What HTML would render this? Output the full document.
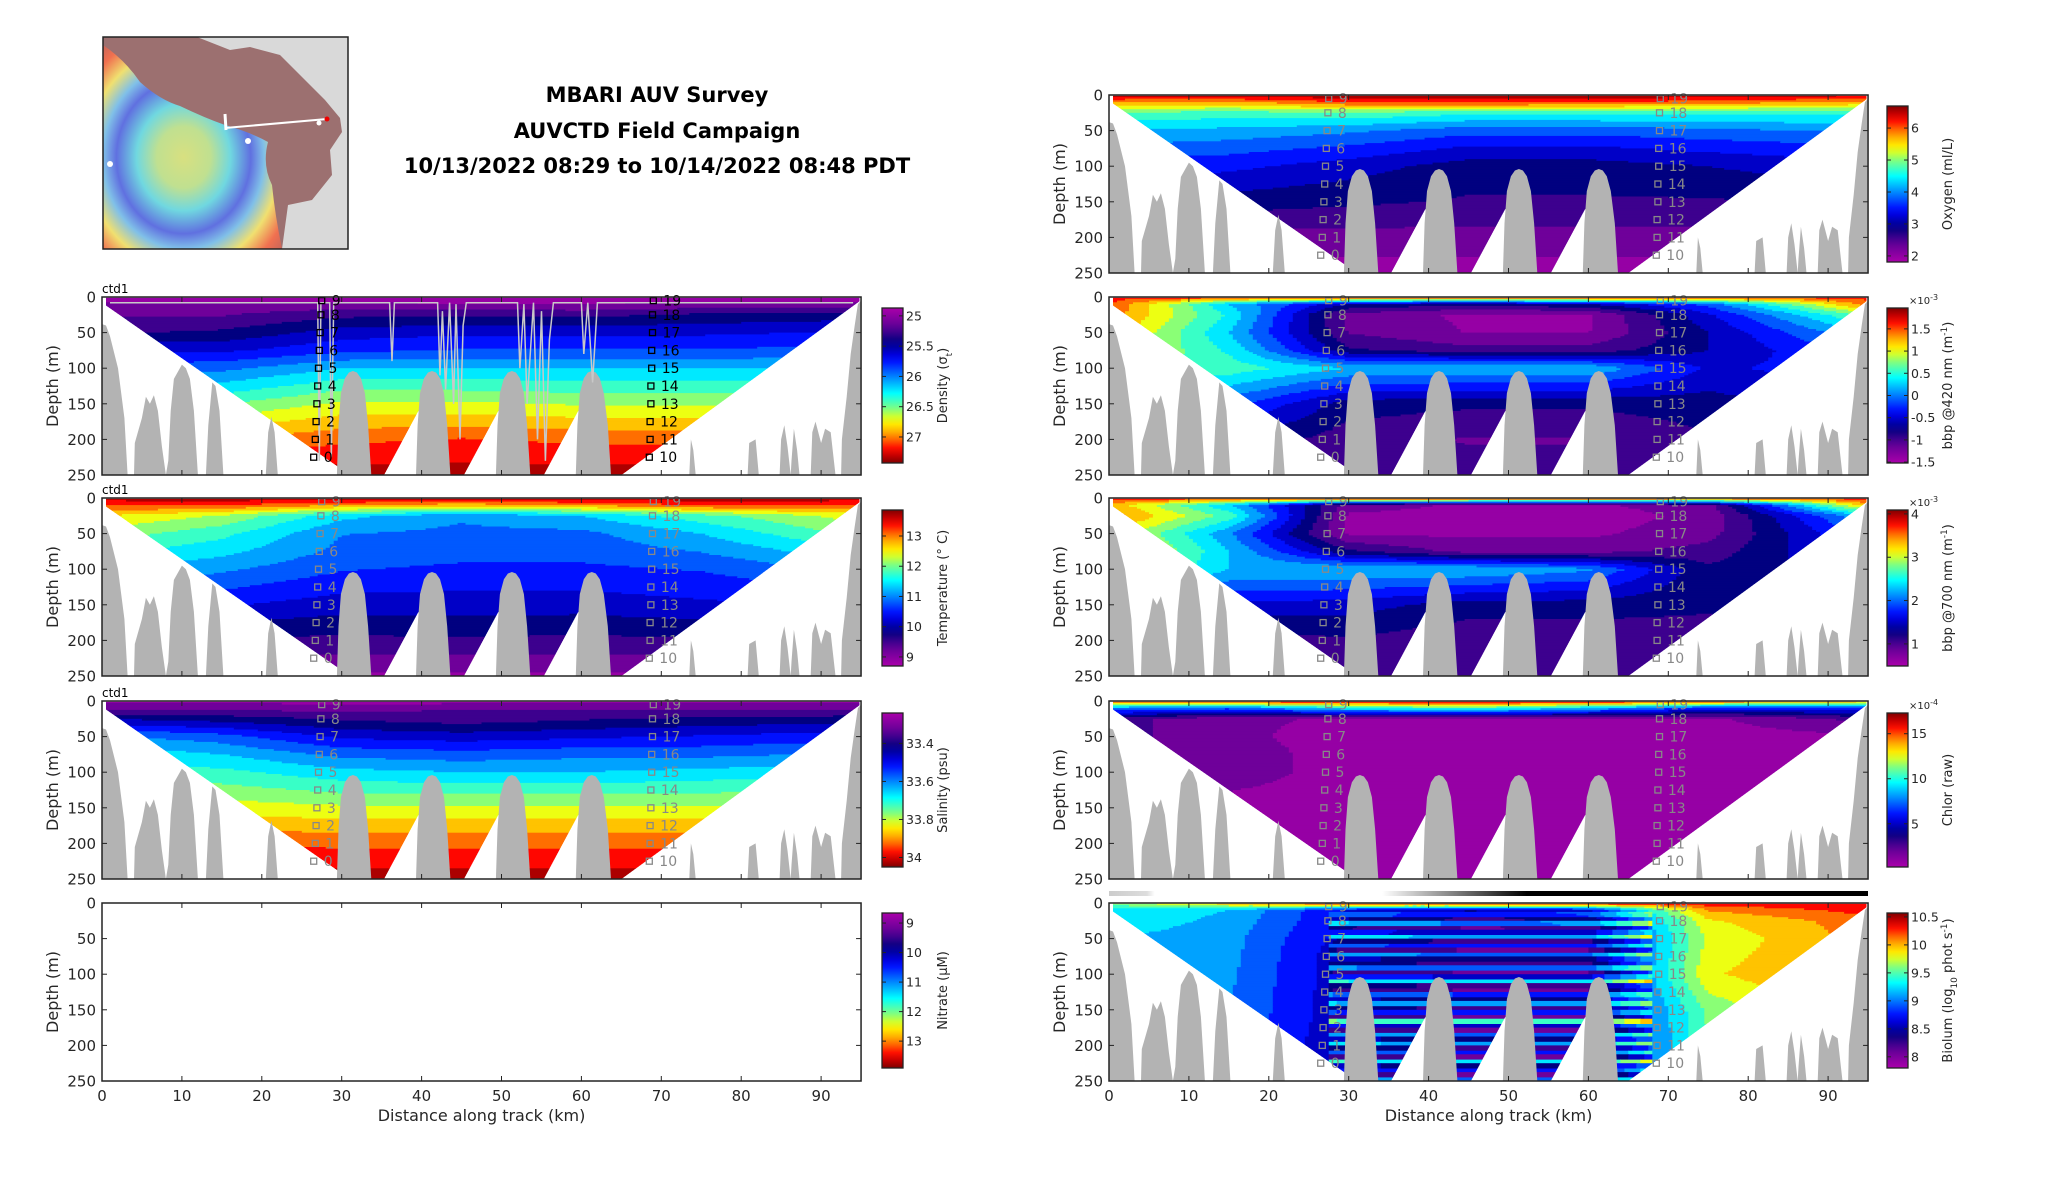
<!DOCTYPE html>
<html><head><meta charset="utf-8"><title>MBARI AUV Survey</title>
<style>
html,body{margin:0;padding:0;background:#fff;}
svg{display:block;font-family:"DejaVu Sans","Liberation Sans",sans-serif;}
</style></head>
<body>
<svg id="fig" width="2052" height="1188" viewBox="0 0 2052 1188" xmlns="http://www.w3.org/2000/svg">
<defs>
<radialGradient id="mapGrad" cx="0.45" cy="0.55" r="0.75">
<stop offset="0" stop-color="#d8e080"/><stop offset="0.2" stop-color="#c0e090"/><stop offset="0.35" stop-color="#70d8e0"/><stop offset="0.5" stop-color="#6070e0"/><stop offset="0.6" stop-color="#80c0e8"/><stop offset="0.72" stop-color="#f0e070"/><stop offset="0.85" stop-color="#f07050"/><stop offset="1" stop-color="#b06060"/>
</radialGradient>
<linearGradient id="biobar" x1="0" x2="1" y1="0" y2="0">
<stop offset="0" stop-color="#ccc"/><stop offset="0.05" stop-color="#ddd"/><stop offset="0.06" stop-color="#fff"/><stop offset="0.36" stop-color="#fff"/><stop offset="0.55" stop-color="#000"/><stop offset="1" stop-color="#000"/>
</linearGradient>
<clipPath id="mapClip"><rect x="103" y="37" width="245" height="212"/></clipPath>
</defs>
<g id="map" clip-path="url(#mapClip)">
<rect x="103" y="37" width="245" height="212" fill="#d9d9d9"/>
<path d="M103 37 L197 37 L230 50 L250 47 L280 55 L300 75 L325 100 L340 118 L342 132 L330 150 L332 175 L312 200 L288 205 L282 249 L103 249 Z" fill="#9c7070"/>
<path d="M103 45 Q125 60 140 82 Q160 100 180 106 Q205 118 225 125 Q250 132 268 142 Q262 165 272 185 Q275 215 282 249 L103 249 Z" fill="url(#mapGrad)"/>
<line x1="225" y1="128" x2="327" y2="119" stroke="#fff" stroke-width="2"/>
<line x1="225" y1="114" x2="226" y2="130" stroke="#fff" stroke-width="3"/>
<circle cx="327" cy="119" r="2.5" fill="#e00"/>
<circle cx="110" cy="164" r="3" fill="#fff"/><circle cx="248" cy="141" r="3" fill="#fff"/><circle cx="319" cy="123" r="2.5" fill="#fff"/>
</g>
<rect x="103" y="37" width="245" height="212" fill="none" stroke="#222" stroke-width="1.5"/>
<g font-weight="bold" font-size="21" text-anchor="middle" fill="#000">
<text x="657" y="102">MBARI AUV Survey</text>
<text x="657" y="138">AUVCTD Field Campaign</text>
<text x="657" y="173">10/13/2022 08:29 to 10/14/2022 08:48 PDT</text>
</g>
<rect x="1109" y="891" width="759" height="5" fill="url(#biobar)"/>
<g id="panels"></g>
</svg>
<script>
// ---- data ----
const gridX = [0,15,30,45,60,75,95];
const gridD = [0,10,25,50,75,100,150,200,250];
const densityVals = [
[.03,.03,.03,.03,.03,.03,.03],[.08,.08,.08,.06,.06,.08,.08],[.12,.12,.17,.18,.17,.2,.22],
[.18,.2,.28,.3,.3,.3,.32],[.3,.3,.36,.38,.38,.38,.4],[.4,.42,.5,.5,.5,.5,.5],
[.6,.62,.7,.7,.68,.68,.65],[.8,.82,.86,.88,.86,.86,.85],[.97,.97,.97,.97,.97,.97,.97]];
const temperatureVals = [
[.97,.98,.98,.98,.98,.98,.97],[.88,.88,.82,.78,.82,.88,.88],[.75,.68,.52,.45,.5,.6,.72],
[.66,.58,.44,.42,.42,.5,.65],[.58,.52,.42,.4,.4,.44,.55],[.5,.45,.38,.36,.36,.38,.45],
[.35,.32,.28,.28,.28,.3,.32],[.2,.18,.17,.18,.17,.18,.2],[.05,.05,.05,.05,.05,.05,.05]];
const salinityVals = [
[.05,.05,.03,.03,.03,.05,.05],[.1,.1,.1,.12,.12,.1,.1],[.25,.22,.18,.15,.18,.2,.22],
[.45,.4,.3,.28,.3,.32,.35],[.55,.5,.42,.4,.42,.42,.45],[.6,.58,.52,.5,.5,.52,.55],
[.75,.72,.7,.7,.7,.7,.7],[.88,.87,.86,.86,.86,.86,.86],[.97,.97,.97,.97,.97,.97,.97]];
const oxygenVals = [
[.97,.98,.99,.99,.99,.98,.95],[.82,.8,.88,.9,.88,.85,.8],[.62,.6,.62,.58,.58,.58,.58],
[.5,.48,.45,.4,.4,.42,.45],[.42,.4,.36,.3,.3,.33,.36],[.35,.33,.28,.22,.22,.25,.3],
[.25,.22,.2,.18,.18,.18,.2],[.1,.1,.1,.1,.1,.1,.1],[.03,.03,.03,.03,.03,.03,.03]];
const bbp420Vals = [
[.9,.92,.95,.97,.95,.9,.9],[.88,.5,.25,.2,.25,.4,.85],[.85,.55,.1,.05,.05,.3,.65],
[.8,.5,.12,.06,.06,.25,.5],[.75,.55,.2,.15,.15,.25,.4],[.65,.6,.5,.5,.5,.3,.35],
[.5,.4,.22,.2,.2,.22,.3],[.3,.25,.15,.12,.12,.18,.25],[.2,.2,.15,.15,.15,.2,.2]];
const bbp700Vals = [
[.9,.92,.95,.97,.95,.9,.9],[.8,.5,.1,.05,.05,.1,.8],[.85,.6,.05,.03,.03,.08,.5],
[.75,.45,.05,.05,.05,.1,.4],[.8,.5,.2,.1,.1,.15,.35],[.7,.5,.5,.5,.45,.2,.3],
[.4,.3,.28,.22,.22,.2,.25],[.2,.15,.18,.14,.14,.15,.2],[.15,.15,.15,.15,.15,.15,.15]];
const chlorVals = [
[.9,.92,.95,.98,.95,.9,.8],[.45,.4,.55,.6,.5,.35,.35],[.15,.08,.05,.05,.05,.05,.15],
[.15,.08,.03,.03,.03,.03,.05],[.12,.1,.03,.03,.03,.03,.03],[.1,.1,.03,.03,.03,.03,.03],
[.03,.03,.03,.03,.03,.03,.03],[.03,.03,.03,.03,.03,.03,.03],[.03,.03,.03,.03,.03,.03,.03]];
const biolumVals = [
[.65,.8,.92,.95,.95,.92,.92],[.55,.5,.3,.25,.3,.82,.9],[.55,.48,.3,.22,.25,.74,.85],
[.5,.46,.28,.22,.22,.7,.84],[.5,.46,.26,.22,.22,.72,.84],[.48,.45,.26,.22,.22,.74,.84],
[.45,.44,.26,.22,.22,.64,.84],[.42,.4,.26,.22,.22,.62,.82],[.4,.4,.26,.22,.22,.62,.82]];
const biolumStripes = [0,0,.1,-.05,.2,-.1,.05,.25,-.05,.12,-.1,.2,0,-.05,.18,-.1,.08,.3,-.05,-.1,.15,0,.22,-.05,.1,-.1,.35,.05,-.1,.2,0,.25,-.05,.15,-.1,.3,0,.1,-.1,.2];
// bathymetry (km, depth m)
const bathyKm = [0,0.5,1,2,2.8,3.2,4,4.1,5,5.5,6,6.5,7,7.5,8,8.3,8.6,9,9.5,10,10.5,11,11.5,12,13,13.3,13.8,14.2,14.7,15.2,20.5,20.8,21.2,21.6,22,
29.4,29.6,29.9,30.4,30.9,31.4,31.9,32.4,32.9,33.3,33.7,
39.3,39.5,39.8,40.3,40.8,41.3,41.8,42.3,42.8,43.2,43.6,
49.3,49.5,49.8,50.3,50.8,51.3,51.8,52.3,52.8,53.2,53.6,
59.3,59.5,59.8,60.3,60.8,61.3,61.8,62.3,62.8,63.3,63.7,
73.5,73.7,74,74.3,80.8,81,81.8,82.2,84.8,85,85.4,85.8,86.2,86.3,86.6,87,87.3,88.7,88.9,89.3,90,90.5,91.2,91.8,92.5,92.6,93.2,93.7,94.2,94.6,95];
const bathyDepth = [38,40,55,100,170,250,250,205,170,140,150,138,160,210,250,230,160,115,105,95,100,115,160,250,250,180,120,125,160,250,250,190,168,190,250,
250,180,135,114,106,104,106,114,135,180,250,
250,180,135,114,106,104,106,114,135,180,250,
250,180,135,114,106,104,106,114,135,180,250,
250,180,135,114,106,104,106,114,135,180,250,
250,200,215,250,250,205,200,250,250,200,180,210,250,230,185,215,250,250,190,175,205,185,190,250,250,200,140,80,40,10,5];
const sectionKm = [0.5,94.8,94.8,65,63.6,59.6,55.3,53.6,49.6,45.3,43.6,39.6,35.3,33.7,29.5,0.5];
const sectionDepth = [1,1,6,250,250,160,250,250,160,250,250,160,250,250,238,12];
const markerDepths = [5,25,50,75,100,125,150,175,200,225];
const markerLabelsA = ['9','8','7','6','5','4','3','2','1','0'];
const markerLabelsB = ['19','18','17','16','15','14','13','12','11','10'];
const markerKmA = [27.5,27.4,27.3,27.2,27.1,27,26.9,26.8,26.7,26.5];
const markerKmB = [69,68.9,68.9,68.8,68.8,68.7,68.7,68.6,68.6,68.5];
const depthTicks = [0,50,100,150,200,250];
const kmTicks = [0,10,20,30,40,50,60,70,80,90];
const traceKm = [1,27,27.2,27.4,28.5,28.7,29,30,36,36.3,36.6,37,42,42.3,42.6,43,43.5,44,44.3,44.8,45.2,45.6,52,52.3,52.8,53.2,54,54.5,55,55.5,56,56.5,60,60.3,60.8,61.4,62,94];
const traceDepth = [8,8,230,8,8,225,8,8,8,90,8,8,8,110,20,130,8,150,10,200,40,8,8,100,10,150,8,200,20,230,60,8,8,80,8,120,8,8];

// ---- layout ----
const KM = 7.99, PH = 178;
const root = document.getElementById('panels');
const NS = 'http://www.w3.org/2000/svg';
function mk(tag, attrs, parent){const e=document.createElementNS(NS,tag);for(const k in attrs)e.setAttribute(k,attrs[k]);(parent||root).appendChild(e);return e;}
const cmStops=[[0,[170,0,170]],[0.12,[95,0,150]],[0.22,[0,0,128]],[0.33,[0,0,255]],[0.45,[0,140,255]],[0.55,[0,255,255]],[0.65,[128,255,128]],[0.73,[255,255,0]],[0.82,[255,150,0]],[0.91,[255,0,0]],[1,[128,0,0]]];
function cmap(v){v=Math.max(0,Math.min(1,v));for(let i=1;i<cmStops.length;i++){if(v<=cmStops[i][0]){const a=cmStops[i-1],b=cmStops[i];const t=(v-a[0])/(b[0]-a[0]);const c=a[1].map((x,j)=>Math.round(x+(b[1][j]-x)*t));return 'rgb('+c.join(',')+')';}}return 'rgb(128,0,0)';}
function interp(mat,km,d){let i=0;while(i<gridX.length-2&&km>gridX[i+1])i++;let j=0;while(j<gridD.length-2&&d>gridD[j+1])j++;
const tx=Math.max(0,Math.min(1,(km-gridX[i])/(gridX[i+1]-gridX[i])));const ty=Math.max(0,Math.min(1,(d-gridD[j])/(gridD[j+1]-gridD[j])));
const a=mat[j][i]*(1-tx)+mat[j][i+1]*tx;const b=mat[j+1][i]*(1-tx)+mat[j+1][i+1]*tx;return a*(1-ty)+b*ty;}

const panels=[
 {key:'density',x0:102,top:297,mat:densityVals,ctd:true,mk:'#000',trace:true,cb:{x:882,y0:308,y1:463,lo:24.87,hi:27.43,topRed:false,ticks:[25,25.5,26,26.5,27],labels:['25','25.5','26','26.5','27'],title:'Density (σ<tspan baseline-shift="sub" font-size="9">t</tspan>)'}},
 {key:'temperature',x0:102,top:498,mat:temperatureVals,ctd:true,mk:'#888',cb:{x:882,y0:510,y1:666,lo:13.86,hi:8.7,topRed:true,ticks:[13,12,11,10,9],labels:['13','12','11','10','9'],title:'Temperature (° C)'}},
 {key:'salinity',x0:102,top:701,mat:salinityVals,ctd:true,mk:'#888',cb:{x:882,y0:713,y1:867,lo:33.24,hi:34.05,topRed:false,ticks:[33.4,33.6,33.8,34],labels:['33.4','33.6','33.8','34'],title:'Salinity (psu)'}},
 {key:'nitrate',x0:102,top:903,mat:null,xlab:true,cb:{x:882,y0:913,y1:1068,lo:8.66,hi:13.91,topRed:false,ticks:[9,10,11,12,13],labels:['9','10','11','12','13'],title:'Nitrate (μM)'}},
 {key:'oxygen',x0:1109,top:95,mat:oxygenVals,mk:'#888',cb:{x:1887,y0:106,y1:262,lo:6.69,hi:1.81,topRed:true,ticks:[6,5,4,3,2],labels:['6','5','4','3','2'],title:'Oxygen (ml/L)'}},
 {key:'bbp420',x0:1109,top:297,mat:bbp420Vals,mk:'#888',cb:{x:1887,y0:308,y1:463,lo:1.97,hi:-1.52,topRed:true,ticks:[1.5,1,0.5,0,-0.5,-1,-1.5],labels:['1.5','1','0.5','0','-0.5','-1','-1.5'],exp:'×10<tspan baseline-shift="super" font-size="8">-3</tspan>',title:'bbp @420 nm (m<tspan baseline-shift="super" font-size="9">-1</tspan>)'}},
 {key:'bbp700',x0:1109,top:498,mat:bbp700Vals,mk:'#888',cb:{x:1887,y0:510,y1:666,lo:4.09,hi:0.49,topRed:true,ticks:[4,3,2,1],labels:['4','3','2','1'],exp:'×10<tspan baseline-shift="super" font-size="8">-3</tspan>',title:'bbp @700 nm (m<tspan baseline-shift="super" font-size="9">-1</tspan>)'}},
 {key:'chlor',x0:1109,top:701,mat:chlorVals,mk:'#888',cb:{x:1887,y0:713,y1:867,lo:17.3,hi:0.2,topRed:true,ticks:[15,10,5],labels:['15','10','5'],exp:'×10<tspan baseline-shift="super" font-size="8">-4</tspan>',title:'Chlor (raw)'}},
 {key:'biolum',x0:1109,top:903,mat:biolumVals,stripes:true,mk:'#888',xlab:true,cb:{x:1887,y0:913,y1:1068,lo:10.57,hi:7.8,topRed:true,ticks:[10.5,10,9.5,9,8.5,8],labels:['10.5','10','9.5','9','8.5','8'],title:'Biolum (log<tspan baseline-shift="sub" font-size="9">10</tspan> phot s<tspan baseline-shift="super" font-size="9">-1</tspan>)'}}
];

panels.forEach(p=>{
 const X=km=>p.x0+km*KM, Y=d=>p.top+d/250*PH;
 const g=mk('g',{});
 
 
 if(p.mat){
  const cp=mk('clipPath',{id:'clip-'+p.key},g);
  const pts=sectionKm.map((k,i)=>X(k).toFixed(1)+','+Y(sectionDepth[i]).toFixed(1)).join(' ');
  mk('polygon',{points:pts},cp);
  const field=mk('g',{'clip-path':'url(#clip-'+p.key+')'},g);
  
  
  const dk=0.5, dd=2.5, nL=16;
  for(let d=0; d<250; d+=dd){
   let runStart=0, runQ=null;
   const flush=(endKm)=>{ if(runQ===null)return; const r=mk('rect',{x:X(runStart).toFixed(1),y:Y(d).toFixed(1),width:((endKm-runStart)*KM+0.6).toFixed(1),height:(dd/250*PH+0.6).toFixed(2),fill:cmap(runQ)},field);
    
     };
   for(let k=0;k<95;k+=dk){
    let v=interp(p.mat,k+dk/2,d+dd/2);
    if(p.stripes&&k>27&&k<68&&d>8){v+=biolumStripes[Math.min(biolumStripes.length-1,Math.floor(d/6.25))];}
    const q=(Math.min(nL-1,Math.max(0,Math.floor(v*nL)))+0.5)/nL;
    if(q!==runQ){flush(k);runStart=k;runQ=q;}
   }
   flush(95);
  }
  let bp='M'+X(0)+','+Y(250);
  bathyKm.forEach((k,i)=>{bp+=' L'+X(k).toFixed(1)+','+Y(bathyDepth[i]).toFixed(1);});
  bp+=' L'+X(95)+','+Y(250)+' Z';
  const b=mk('path',{d:bp,fill:'#b3b3b3'},g);
  
  
  if(p.trace){
   const tp=traceKm.map((k,i)=>X(k).toFixed(1)+','+Y(traceDepth[i]).toFixed(1)).join(' ');
   const t=mk('polyline',{points:tp,fill:'none',stroke:'#c8c8c8','stroke-width':1.5},g);
   
   
  }
  [[markerKmA,markerLabelsA],[markerKmB,markerLabelsB]].forEach(([kms,labs],s)=>{
   markerDepths.forEach((d,i)=>{
    const r=mk('rect',{x:(X(kms[i])-3).toFixed(1),y:(Y(d)-3).toFixed(1),width:6,height:6,fill:'none',stroke:p.mk,'stroke-width':1.3},g);
    
    
    const t=mk('text',{x:(X(kms[i])+10).toFixed(1),y:(Y(d)+5).toFixed(1),'font-size':14,fill:p.mk},g);
    t.textContent=labs[i];
    
    
   });
  });
 }
 const fr=mk('rect',{x:X(0),y:Y(0),width:95*KM,height:PH,fill:'none',stroke:'#222','stroke-width':1.5},g);
 
 
 depthTicks.forEach(d=>{
  mk('line',{x1:X(0),x2:X(0)+5,y1:Y(d),y2:Y(d),stroke:'#222'},g);
  mk('line',{x1:X(95),x2:X(95)-5,y1:Y(d),y2:Y(d),stroke:'#222'},g);
  const t=mk('text',{x:X(0)-6,y:Y(d)+5.5,'font-size':15,'text-anchor':'end',fill:'#262626'},g);
  t.textContent=d;
  
  
 });
 kmTicks.forEach(k=>{
  mk('line',{x1:X(k),x2:X(k),y1:Y(250),y2:Y(250)-5,stroke:'#222'},g);
  mk('line',{x1:X(k),x2:X(k),y1:Y(0),y2:Y(0)+5,stroke:'#222'},g);
  if(p.xlab){
   const t=mk('text',{x:X(k),y:Y(250)+20,'font-size':15,'text-anchor':'middle',fill:'#262626'},g);
   t.textContent=k;
   
   
  }
 });
 const yl=mk('text',{x:0,y:0,'font-size':16,'text-anchor':'middle',fill:'#262626',transform:'translate('+(X(0)-44)+','+(Y(125))+') rotate(-90)'},g);
 yl.textContent='Depth (m)';
 
 
 if(p.xlab){
  const xl=mk('text',{x:X(47.5),y:Y(250)+40,'font-size':16,'text-anchor':'middle',fill:'#262626'},g);
  xl.textContent='Distance along track (km)';
  
  
 }
 if(p.ctd){
  const c=mk('text',{x:X(0),y:Y(0)-4,'font-size':12,fill:'#000'},g);
  c.textContent='ctd1';
  
  
 }
 const cb=p.cb;
 const gid='cbg-'+p.key;
 const lg=mk('linearGradient',{id:gid,x1:0,x2:0,y1:cb.topRed?1:0,y2:cb.topRed?0:1},g);
 for(let i=0;i<=20;i++){mk('stop',{offset:i/20,'stop-color':cmap(i/20)},lg);}
 const cr=mk('rect',{x:cb.x,y:cb.y0,width:21,height:cb.y1-cb.y0,fill:'url(#'+gid+')',stroke:'#222','stroke-width':1.3},g);
 
 
 const CY=v=>cb.y0+(v-cb.lo)/(cb.hi-cb.lo)*(cb.y1-cb.y0);
 cb.ticks.forEach((v,i)=>{
  mk('line',{x1:cb.x+21,x2:cb.x+17,y1:CY(v),y2:CY(v),stroke:'#222'},g);
  mk('line',{x1:cb.x,x2:cb.x+4,y1:CY(v),y2:CY(v),stroke:'#222'},g);
  const t=mk('text',{x:cb.x+24,y:CY(v)+4.5,'font-size':12.5,fill:'#262626'},g);
  t.textContent=cb.labels[i];
  
  
 });
 if(cb.exp){
  const e=mk('text',{x:cb.x+22,y:cb.y0-4,'font-size':10,fill:'#262626'},g);
  e.innerHTML=cb.exp;
  
  
 }
 const ct=mk('text',{x:0,y:0,'font-size':13,'text-anchor':'middle',fill:'#262626',transform:'translate('+(cb.x+65)+','+((cb.y0+cb.y1)/2)+') rotate(-90)'},g);
 ct.innerHTML=cb.title;
 
 
});
</script>
</body></html>
